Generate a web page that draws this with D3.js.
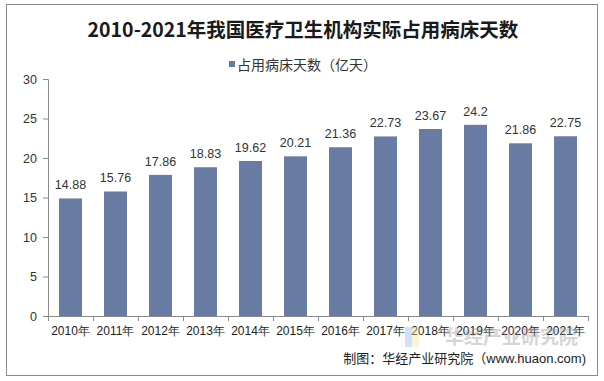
<!DOCTYPE html>
<html><head><meta charset="utf-8">
<script src="https://cdn.jsdelivr.net/npm/d3@7"></script>
<style>body{margin:0;background:#fff;}svg{display:block;}</style>
</head><body><svg id="c" width="604" height="381"></svg>
<script>
const categories = ["2010年","2011年","2012年","2013年","2014年","2015年","2016年","2017年","2018年","2019年","2020年","2021年"];
const values = [14.88,15.76,17.86,18.83,19.62,20.21,21.36,22.73,23.67,24.2,21.86,22.75];
const yTicks = [0,5,10,15,20,25,30];
const title = "2010-2021年我国医疗卫生机构实际占用病床天数";
const seriesName = "占用病床天数（亿天）";
const sourcePrefix = "制图：华经产业研究院";
const sourceSuffix = "（www.huaon.com)";

const svg = d3.select("#c");
svg.append("rect").attr("x",6.5).attr("y",4.5).attr("width",591).attr("height",371)
  .attr("fill","#fff").attr("stroke","#8c8c8c").attr("stroke-width",1);

const m={l:48,r:588,t:79,b:316};
const x=d3.scaleBand().domain(categories).range([m.l,m.r]).paddingInner(0.49).paddingOuter(0.245);
const xb=d3.scaleBand().domain(categories).range([m.l,m.r]);
const y=d3.scaleLinear().domain([0,30]).range([m.b,m.t]);
const color="#687ca3";
const font="Liberation Sans, Arial, sans-serif";

svg.append("text").attr("x",303).attr("y",37).attr("text-anchor","middle")
  .attr("font-family","Noto Sans CJK SC, serif").attr("font-weight","bold").attr("font-size",19.5)
  .attr("fill","#1a1a1a").text(title);

// legend
svg.append("rect").attr("x",229).attr("y",61).attr("width",6).attr("height",6).attr("fill",color);
svg.append("text").attr("x",237).attr("y",69.5).attr("font-family","Noto Sans CJK SC, sans-serif")
  .attr("font-size",14).attr("fill","#333").text(seriesName);

// y axis
const ya=svg.append("g").attr("transform",`translate(${m.l},0)`)
  .call(d3.axisLeft(y).tickValues(yTicks).tickSize(5).tickPadding(6));
ya.selectAll("path,line").attr("stroke","#8c8c8c");
ya.selectAll("text").attr("font-family",font).attr("font-size",12.5).attr("fill","#333");

// x axis
const xa=svg.append("g").attr("transform",`translate(0,${m.b})`)
  .call(d3.axisBottom(xb).tickSize(0).tickPadding(10).tickSizeOuter(0));
xa.select("path").attr("stroke","#8c8c8c");
xa.selectAll("text").attr("font-family",font).attr("font-size",12).attr("fill","#222");
const bounds=categories.map(c=>xb(c)).concat([m.r]);
svg.append("g").selectAll("line").data(bounds).join("line")
  .attr("x1",d=>d+0.5).attr("x2",d=>d+0.5).attr("y1",m.b).attr("y2",m.b+5).attr("stroke","#8c8c8c");

// bars
svg.append("g").selectAll("rect").data(values).join("rect")
  .attr("x",(d,i)=>x(categories[i])).attr("width",x.bandwidth())
  .attr("y",d=>y(d)).attr("height",d=>y(0)-y(d)).attr("fill",color);
svg.append("g").selectAll("text").data(values).join("text")
  .attr("x",(d,i)=>x(categories[i])+x.bandwidth()/2).attr("y",d=>y(d)-9)
  .attr("text-anchor","middle").attr("font-family",font).attr("font-size",12.5).attr("fill","#333")
  .text(d=>d);

// watermark
const wm=svg.append("g").attr("opacity",0.4);
wm.append("rect").attr("x",405).attr("y",327).attr("width",7).attr("height",20).attr("fill","#8fb8ee");
wm.append("rect").attr("x",412).attr("y",327).attr("width",7).attr("height",20).attr("fill","#f5e39a");
wm.append("text").attr("x",445).attr("y",344).attr("font-family","Noto Sans CJK SC, sans-serif")
  .attr("font-size",19).attr("font-weight","bold").attr("fill","#999").text("华经产业研究院");

const src=svg.append("text").attr("x",586).attr("y",363).attr("text-anchor","end")
  .attr("font-size",13).attr("fill","#222");
src.append("tspan").attr("font-family","Noto Sans CJK SC, sans-serif").text(sourcePrefix);
src.append("tspan").attr("font-family","Noto Sans CJK SC, sans-serif").text(sourceSuffix.slice(0,1));
src.append("tspan").attr("font-family",font).text(sourceSuffix.slice(1));
</script></body></html>
